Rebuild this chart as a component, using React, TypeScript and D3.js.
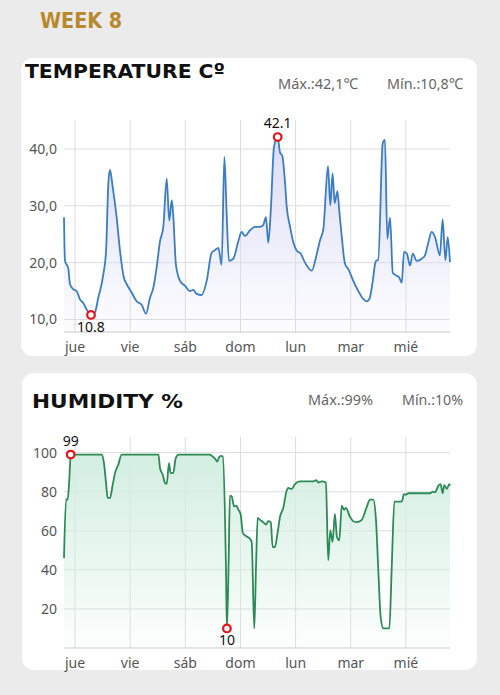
import React from 'react';
import * as d3 from 'd3';

// week starts Wed 19:12, ends next Wed 19:12 (168 h)
const START = new Date(2024, 1, 21, 19, 12);
const SPAN_HOURS = 168;

const dayNames = ['dom', 'lun', 'mar', 'mié', 'jue', 'vie', 'sáb'];
const tempTicks = [10, 20, 30, 40];
const humTicks = [20, 40, 60, 80, 100];

// hours after START
const tempHours = [
  0, 0.4, 1.9, 2.6, 4.1, 5.5, 7, 8.4, 9.9, 11.75, 13.5, 14.9, 17.1, 18.3, 19.3, 20, 21.2, 22.9,
  24.4, 26.1, 27.3, 29.5, 31.6, 33.8, 35.7, 37.4, 38.9, 40.3, 41.8, 43.2, 44.7, 45.8, 46.9, 47.6,
  48.7, 50.5, 52.7, 54.8, 56.3, 57.7, 59.9, 62.1, 64.3, 65.7, 67.2, 68.6, 69.8, 70.8, 71.8, 73.7,
  75.9, 77.3, 78.8, 81, 83.1, 85.3, 86.7, 87.9, 88.9, 90, 91.4, 93, 94, 95, 96.2, 96.9, 98.4,
  99.8, 101.3, 103, 104.9, 107.8, 110, 111.4, 112.9, 114.9, 115.9, 116.9, 117.8, 119, 119.8,
  120.9, 122.3, 123.7, 125.9, 128.1, 130.3, 131.7, 132.9, 134.4, 135.4, 136.1, 136.8, 138.7,
  139.7, 140.7, 141.9, 143.1, 144.8, 145.9, 147, 148, 149.2, 150.6, 151.8, 153.5, 155.7, 157.1,
  158.6, 160, 161.5, 163.6, 164.8, 166, 167, 168,
];
const tempValues = [
  28, 20.4, 18.9, 16.2, 15.3, 15, 13.5, 12.9, 11.7, 10.8, 11.3, 13.8, 17.9, 22, 33.9, 36.3, 33.3, 28,
  22, 17.3, 16.2, 14.7, 13.2, 12.6, 11, 13.8, 15.6, 19.1, 23.8, 26.2, 34.8, 27.4, 31, 28,
  19.7, 16.8, 15.9, 15, 15.2, 14.5, 14.3, 16.8, 21.8, 22.2, 22.6, 19.6, 38.6, 28.5, 20.3, 20.7,
  23.8, 25.4, 24.7, 25.7, 26.3, 26.3, 26.6, 28, 23.5, 29.2, 40.4, 42.1, 39.4, 38.8, 34.1, 30, 26.3,
  23.6, 22.1, 21.6, 20, 18.6, 21.5, 23.9, 26, 37, 30.1, 35.7, 30.5, 32.6, 29.2,
  24.5, 19.8, 18.9, 16.8, 15, 13.6, 13.2, 13.6, 16.8, 19.8, 20.4, 20.4, 41,
  41.6, 24.2, 27.9, 18.2, 17.7, 17.4, 16.5, 21.9, 21.6, 19.5, 21.6, 20.3, 20.7, 21.3,
  23.6, 25.4, 24.5, 21.3, 27.6, 20.4, 24.5, 20.1,
];

const humHours = [
  0, 0.9, 1.6, 2.3, 2.9, 4.1, 16.4, 17.4, 18.3, 19, 20, 21.2, 22.2, 23.6, 25.1, 41.1, 41.8, 43,
  44, 44.7, 45.7, 46.4, 47.6, 48.6, 49.8, 63.5, 64.7, 65.7, 66.7, 67.5, 68.3, 69.1, 70.5, 70.9,
  71.7, 72.2, 73, 74, 74.9, 75.9, 76.9, 77.8, 78.8, 81, 81.7, 82.8, 83.6, 84.3, 85.3, 86.7, 87.9,
  88.9, 90, 90.8, 91.8, 92.9, 94, 95.5, 96.9, 97.6, 99.1, 100.5, 102.7, 108.5, 109.7, 110.7,
  112.2, 114, 115, 115.9, 116.9, 117.9, 118.8, 119.8, 120.9, 121.9, 122.7, 124.5, 125.9, 127.4,
  129.6, 131.7, 133.2, 134.6, 135.8, 136.8, 137.8, 139, 141.6, 142.6, 143.8, 145.5, 147, 148,
  148.8, 149.9, 159.3, 160.5, 161.5, 162.9, 163.9, 164.8, 165.5, 166.6, 167.7, 168,
];
const humValues = [
  46, 76, 76, 86, 99, 99, 99, 94.6, 84.4, 76.8, 76.8, 83.6, 89.5, 93.7, 99, 99, 92, 88.6,
  84.4, 84, 94.6, 89.5, 89.8, 97, 99, 99, 98, 97, 95.4, 97.6, 98.3, 98, 40.3, 10,
  47, 78, 77.6, 72.5, 72.9, 70.8, 68.3, 59, 57.6, 55.8, 54.2, 10, 43, 66.6, 65.6, 64.4, 63.2,
  64.9, 64.4, 51.7, 51.7, 58.5, 67, 72, 80.5, 81.9, 81.4, 83.9, 85.3, 85.3, 85.9, 84.7,
  85.3, 84.7, 44.9, 60.2, 54.2, 68.6, 56.8, 55.1, 72.9, 70.7, 71.7, 67, 64.9, 64.4,
  65.6, 72, 75.9, 75.9, 65.3, 39.8, 16.1, 10, 10, 40, 74.9, 74.9, 75, 78.8,
  78.5, 79.2, 79.2, 80, 79.7, 83, 83.9, 79.2, 83.4, 81.4, 83.9, 83,
];

const END = new Date(START.getTime() + SPAN_HOURS * 36e5);
const x = d3.scaleTime().domain([START, END]).range([64, 450]);
const days = d3.timeDay.range(d3.timeDay.ceil(START), END);

type ChartProps = {
  hours: number[];
  values: number[];
  domain: [number, number];
  range: [number, number];
  ticks: number[];
  fmt: (v: number) => string;
  valFmt: (v: number) => string;
  color: string;
  fill: string;
  id: string;
};

const Chart = ({ hours, values, domain, range, ticks, fmt, valFmt, color, fill, id }: ChartProps) => {
  const y = d3.scaleLinear().domain(domain).range(range);
  const pts = hours.map((h, i) => ({ t: new Date(START.getTime() + h * 36e5), v: values[i] }));
  const line = d3.line<any>().x(d => x(d.t)).y(d => y(d.v)).curve(d3.curveMonotoneX);
  const area = d3.area<any>().x(d => x(d.t)).y0(range[0]).y1(d => y(d.v)).curve(d3.curveMonotoneX);
  const iMax = d3.maxIndex(values);
  const iMin = d3.minIndex(values);
  const [x0, x1] = x.range();
  return (
    <g>
      <defs>
        <linearGradient id={id} x1="0" y1="0" x2="0" y2="1">
          <stop offset="0" stopColor={fill} stopOpacity={1} />
          <stop offset="1" stopColor={fill} stopOpacity={0.05} />
        </linearGradient>
      </defs>
      {ticks.map(t => (
        <g key={t}>
          <line x1={x0} x2={x1} y1={y(t)} y2={y(t)} stroke="#dcdcdc" strokeWidth={1} />
          <text x={57} y={y(t) + 5} textAnchor="end" fontSize={14} fill="#555">{fmt(t)}</text>
        </g>
      ))}
      {days.map(d => (
        <g key={d.getTime()}>
          <line x1={x(d)} x2={x(d)} y1={range[1]} y2={range[0]} stroke="#dcdcdc" strokeWidth={1} />
          <text x={x(d)} y={range[0] + 20} textAnchor="middle" fontSize={14} fill="#555">
            {dayNames[d.getDay()]}
          </text>
        </g>
      ))}
      <line x1={x0} x2={x1} y1={range[0]} y2={range[0]} stroke="#c8c8c8" strokeWidth={1} />
      <path d={area(pts) || ''} fill={`url(#${id})`} />
      <path d={line(pts) || ''} fill="none" stroke={color} strokeWidth={1.8} />
      <circle cx={x(pts[iMax].t)} cy={y(pts[iMax].v)} r={3.8} fill="#fff" stroke="#e3141b" strokeWidth={2.2} />
      <text x={x(pts[iMax].t)} y={y(pts[iMax].v) - 9} textAnchor="middle" fontSize={14} fill="#111">
        {valFmt(values[iMax])}
      </text>
      <circle cx={x(pts[iMin].t)} cy={y(pts[iMin].v)} r={3.8} fill="#fff" stroke="#e3141b" strokeWidth={2.2} />
      <text x={x(pts[iMin].t)} y={y(pts[iMin].v) + 17} textAnchor="middle" fontSize={14} fill="#111">
        {valFmt(values[iMin])}
      </text>
    </g>
  );
};

const App = () => {
  const font = "'Noto Sans', 'DejaVu Sans', sans-serif";
  const title = "'DejaVu Sans', sans-serif";
  return (
    <svg width={500} height={695} style={{ position: 'absolute', left: 0, top: 0, fontFamily: font }}>
      <rect width={500} height={695} fill="#ebebeb" />
      <text x={40} y={28} fontFamily={title} fontWeight="bold" fontSize={21} fill="#b8892c"
        textLength={82} lengthAdjust="spacingAndGlyphs">WEEK 8</text>

      <rect x={21} y={58} width={456} height={298} rx={12} fill="#fff" />
      <text x={25} y={78} fontFamily={title} fontWeight="bold" fontSize={20} fill="#111"
        textLength={200} lengthAdjust="spacingAndGlyphs">TEMPERATURE Cº</text>
      <text x={278} y={89} fontSize={15} fill="#666" textLength={80} lengthAdjust="spacingAndGlyphs">Máx.:42,1℃</text>
      <text x={387} y={89} fontSize={15} fill="#666" textLength={76} lengthAdjust="spacingAndGlyphs">Mín.:10,8℃</text>
      <Chart hours={tempHours} values={tempValues} domain={[7.8, 45.1]} range={[332, 120]}
        ticks={tempTicks} fmt={v => v.toFixed(1).replace('.', ',')} valFmt={v => v.toFixed(1)}
        color="#3a7dc2" fill="#dcdcf6" id="gradT" />

      <rect x={22} y={373} width={455} height={297} rx={12} fill="#fff" />
      <text x={32} y={408} fontFamily={title} fontWeight="bold" fontSize={20} fill="#111"
        textLength={151} lengthAdjust="spacingAndGlyphs">HUMIDITY %</text>
      <text x={308} y={405} fontSize={15} fill="#666" textLength={65} lengthAdjust="spacingAndGlyphs">Máx.:99%</text>
      <text x={402} y={405} fontSize={15} fill="#666" textLength={61} lengthAdjust="spacingAndGlyphs">Mín.:10%</text>
      <Chart hours={humHours} values={humValues} domain={[0, 108]} range={[648, 437]}
        ticks={humTicks} fmt={v => String(v)} valFmt={v => String(v)}
        color="#2b8a55" fill="#d3eee1" id="gradH" />
    </svg>
  );
};

export default App;
